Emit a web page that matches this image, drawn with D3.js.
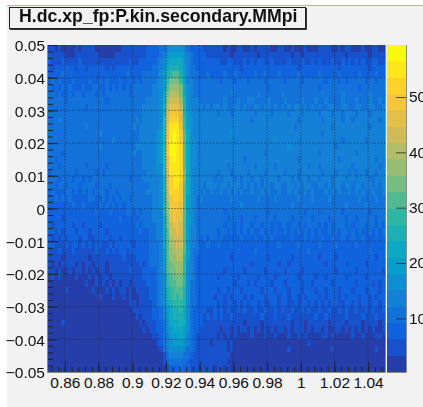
<!DOCTYPE html>
<html>
<head>
<meta charset="utf-8">
<script src="https://cdn.jsdelivr.net/npm/d3@7"></script>
<style>
    html, body { margin: 0; padding: 0; background: #fff; overflow: hidden; }
    svg { display: block; filter: blur(0.4px); }
    text { font-family: "Liberation Sans", Arial, sans-serif; fill: #111; }
</style>
</head>
<body>
<div id="chart"></div>
<script>
const titleText = "H.dc.xp_fp:P.kin.secondary.MMpi";

const xDomain = [0.85, 1.05];
const yDomain = [-0.05, 0.05];
const zDomain = [3, 594];

const xTicks = [0.86, 0.88, 0.9, 0.92, 0.94, 0.96, 0.98, 1, 1.02, 1.04];
const xTickLabels = ["0.86", "0.88", "0.9", "0.92", "0.94", "0.96", "0.98", "1", "1.02", "1.04"];
const yTicks = [-0.05, -0.04, -0.03, -0.02, -0.01, 0, 0.01, 0.02, 0.03, 0.04, 0.05];
const yTickLabels = ["\u22120.05", "\u22120.04", "\u22120.03", "\u22120.02", "\u22120.01", "0", "0.01", "0.02", "0.03", "0.04", "0.05"];
const zTicks = [100, 200, 300, 400, 500];

// ROOT kBird palette stops
const birdStops = ["#352a87", "#0f5cdd", "#1481d6", "#06a4ca", "#2eb7a4", "#87bf77", "#d1bb59", "#fec832", "#f9fb0e"];

const levelRows = [
    "1101000010 1111000000 0011111112 2223345555 4322221111 1101001100 1011110011 0010001000 1111001011 0001001100",
    "1111100011 1111100000 1111111112 2223456666 5432222111 1111011111 1101111111 1101101111 1111111101 1111101111",
    "2111211112 1111111111 1111211222 2234567777 5432222222 2112211121 2122112111 1211121121 2111211212 1212112211",
    "2122222212 2122222121 2222222222 2334578887 6433222222 2222222122 2222222222 2222122222 2222221222 2222212222",
    "2222322222 2222222222 2223222233 3335689aa8 6433322322 2232232222 2322322232 2222322222 3222223222 2232222322",
    "2323222322 2232232322 2322323233 334569bbb9 6443333333 3233323332 3333233333 2333323333 3323332323 3333233233",
    "3232323222 3223322323 2323233333 34456acccb 7543333333 3333333333 3333323333 3333333333 2333333333 3323333333",
    "3323223233 2333232333 3333233333 34457bdddb 7543333333 3333433333 3343333334 3333333333 3433333433 3333343333",
    "3333323333 3333333233 3333333334 44457ceeec 8544433333 3343334334 4333343333 4333343334 3343333433 3433343343",
    "3333333333 3233333333 3333333344 44458dfffd 8544443434 4343344343 3443443434 3434434343 4334433443 3443344334",
    "3333333333 3333333333 3333333344 44458eggge 8654444444 3444344444 4344443444 4344434444 3444344344 4344434444",
    "3334333333 3333333333 3333334344 44459ehhhe 9654444444 4444444444 3444444444 4444344444 4344444344 3444444434",
    "3333333333 3433333333 3333343444 44459fiiif 9654444444 4444444444 4444444444 4443444444 4444344444 4444434444",
    "3333333333 3333343333 3333333444 44569fijig a754444444 4444544444 4444444444 4444444444 4344444444 4444444444",
    "3333333333 3333333334 3333333444 44569gijig a755444444 4444444444 4444444544 4444444444 4444444344 4444344444",
    "3333333333 3333343333 3333334444 44569gjjih a755444444 4444444444 4444444444 4544444444 4444434444 4444444444",
    "3333233333 3333333333 3333343344 44569gjjih a755444444 4444444444 4444344444 4444444444 3444444444 4344444444",
    "3323333333 3333333333 3333333344 44569fijih a755444444 4444444434 4444444444 4444344444 4444443444 4444444344",
    "3332333333 3233333233 3333333344 44559fiiih a755444444 4443444444 4344444344 4444444344 3444444444 3444444434",
    "2333333323 3333232333 3333333334 44559eiiih b754444444 3444344443 4444344444 3444344444 4344434443 4344344344",
    "3332333233 2323333333 3333233344 44458ehiih b754444443 4344434344 3443444434 4434344344 3444344434 4344433444",
    "3323323332 3333233323 3333333333 44458ehiig a754443444 3443444343 4343443443 3443434433 4434344344 3443443434",
    "2322233232 3232333233 2333333334 44458dhhhg a754434343 3434343433 4334343343 3434334343 3343434334 3434334334",
    "2232323222 2233223232 3233233333 34458dghhg a654343333 3333433333 3343333433 3333433343 3334333333 3343333433",
    "2222222322 3222232323 2323333333 34458cgggf a654333333 3333333433 3333333333 3343333333 3333333343 3333433333",
    "2222222222 2222322232 2223323233 34448cfggf a654333333 3323333333 3333323333 3333332333 2333333233 3333323333",
    "2222122222 2222222222 2322222333 34447bfgff a654333333 3332333233 3233333233 3323333323 3332333323 3233333233",
    "2122222122 1222212222 2222223233 33447beffe a654333333 3323323233 2332332323 3233232333 2323233323 2333233232",
    "2212122212 2212222122 2222222322 33447aeefe a644333333 2332323232 3223232322 3232323232 3223232332 3232232323",
    "2121212221 2211222212 2122222222 33447adeee a644323233 2322222322 2322323222 2232223232 2322322322 3223222322",
    "2211121221 2121221121 2222212222 33347addee a644322322 3222322222 2222222232 2222322222 3222232222 2322222222",
    "1112111211 1111211212 1221222222 33346acddd a643322222 2222222222 2322222222 2222222322 2222222222 2222232222",
    "1111011111 1101111111 1121112222 33346accdd 9643222222 2222122222 2222212222 2212222222 1222212222 2222222122",
    "1010111101 0110111011 1111111212 33346abccc 9543222222 2222222222 1222222212 2122222222 2212222212 2222122222",
    "1101001011 0101011011 1111211122 22346abbcc 9543222222 2212222212 2222122222 1222212222 2222212222 2122222221",
    "0101000010 0010101101 1111111122 223459abbb 9543222222 1222221222 2212222122 2222122221 2212222212 2222122222",
    "0000000000 0100101010 1011011112 223459aabb 9533222222 2222212221 2122221222 1222212212 2222122222 2122221212",
    "0000010000 0001000101 0110101111 2234589aaa 8533222222 1221222122 2221222122 2122212221 2212221222 1222122212",
    "0000000000 0000010001 0010100111 2234589a9a 8533222221 2212122212 1222122212 2122121222 1212221212 2212212122",
    "0000000000 0000000000 0000110111 1234578999 8533222222 1212212121 2212112212 2112122121 2121221122 1212212212",
    "0000000000 0000000000 0000011111 1223467889 7532222112 1212112121 1211211212 1121121211 2112112121 1211212112",
    "0000000000 0000000000 0000001011 1223467888 7532221212 1211211111 1112111211 1211111112 1121111121 1112111211",
    "0000100000 0000000000 0000000101 1122357778 7532221111 1111111101 1110111111 1101110111 1110111101 1110111101",
    "0000000000 0000000000 0000000010 1122356777 6532211111 1011010110 1010101011 0101110101 1010011010 1010101001",
    "0000000000 0000000000 0000000000 0112346667 6432111111 0101010000 1000100100 0100101000 0110100000 1001000110",
    "0000000000 0000000000 0000000000 0012345666 5432111101 1110100000 0000000000 0000000100 0000000000 0000000000",
    "0000000000 0000000000 0000000000 0001345555 4332111111 1110100000 0000000000 0100000000 0000100000 0000000100",
    "0000000000 0000000000 0000000000 0000134444 3321111111 1111000000 0000000000 0000000000 0000000000 0000000000",
    "0000000000 0000000000 0000000000 0000123333 3211111111 1110000000 0000000000 0000000000 0000000000 0000000000",
    "0000000000 0000000000 0000000000 0000012223 2211111110 1101000000 0000000000 0000000000 0000000000 0000000000"
];

const size = { width: 423, height: 407 };
const plot = { left: 48, right: 385, top: 45, bottom: 372 };
const bar = { left: 387, right: 406 };
const levelCount = 20;

const svg = d3.select("#chart").append("svg")
    .attr("width", size.width)
    .attr("height", size.height);

// canvas background and the thin line along its top edge
svg.append("rect").attr("x", 7).attr("y", 5).attr("width", size.width - 7).attr("height", size.height - 5).attr("fill", "#f2f2f2");
svg.append("line").attr("x1", 7).attr("x2", size.width).attr("y1", 5.5).attr("y2", 5.5).attr("stroke", "#f09a9a");

const x = d3.scaleLinear().domain(xDomain).range([plot.left, plot.right]);
const y = d3.scaleLinear().domain(yDomain).range([plot.bottom, plot.top]);
const zY = d3.scaleLinear().domain(zDomain).range([plot.bottom, plot.top]);

const bird = d3.piecewise(d3.interpolateRgb, birdStops);
const bandColors = d3.range(levelCount).map(i => bird((i + 1) / levelCount));
const color = d3.scaleQuantize().domain(zDomain).range(bandColors);
const zStep = (zDomain[1] - zDomain[0]) / levelCount;

// turn the level strings into cells with counts
const rows = levelRows.map(r => r.replace(/ /g, ""));
const xStep = (xDomain[1] - xDomain[0]) / rows[0].length;
const yStep = (yDomain[1] - yDomain[0]) / rows.length;
const cells = [];
rows.forEach((row, r) => {
    row.split("").forEach((ch, c) => {
        cells.push({
            x0: xDomain[0] + c * xStep,
            y1: yDomain[1] - r * yStep,
            count: zDomain[0] + (parseInt(ch, 20) + 0.5) * zStep
        });
    });
});

svg.append("g").attr("shape-rendering", "crispEdges")
    .selectAll("rect")
    .data(cells)
    .enter().append("rect")
    .attr("x", d => x(d.x0))
    .attr("y", d => y(d.y1))
    .attr("width", d => x(d.x0 + xStep) - x(d.x0))
    .attr("height", d => y(d.y1 - yStep) - y(d.y1))
    .attr("fill", d => color(d.count));

// dotted grid
const grid = svg.append("g")
    .attr("stroke", "#1a2a4a")
    .attr("stroke-opacity", 0.6)
    .attr("stroke-dasharray", "1.5 1.5");
grid.selectAll("line.v").data(xTicks).enter().append("line")
    .attr("x1", d => x(d)).attr("x2", d => x(d))
    .attr("y1", plot.top).attr("y2", plot.bottom);
grid.selectAll("line.h").data(yTicks.slice(1, -1)).enter().append("line")
    .attr("x1", plot.left).attr("x2", plot.right)
    .attr("y1", d => y(d)).attr("y2", d => y(d));

// axes, minor ticks first
const xMinor = d3.range(0.852, 1.05, 0.004);
const yMinor = d3.range(-0.05, 0.05, 0.002);

function styleAxis(g) {
    g.select(".domain").remove();
    g.selectAll("line").attr("stroke", "#20242e");
    g.selectAll("text").attr("font-size", 15.5).attr("fill", "#111");
}

svg.append("g").attr("transform", `translate(0,${plot.bottom})`)
    .call(d3.axisBottom(x).tickValues(xMinor).tickSize(-5).tickFormat(""))
    .call(styleAxis);
svg.append("g").attr("transform", `translate(${plot.left},0)`)
    .call(d3.axisLeft(y).tickValues(yMinor).tickSize(-5).tickFormat(""))
    .call(styleAxis);
svg.append("g").attr("transform", `translate(0,${plot.bottom})`)
    .call(d3.axisBottom(x).tickValues(xTicks).tickSizeInner(-10).tickSizeOuter(0).tickFormat((d, i) => xTickLabels[i]))
    .call(styleAxis)
    .call(g => g.selectAll("text").attr("y", 5));
svg.append("g").attr("transform", `translate(${plot.left},0)`)
    .call(d3.axisLeft(y).tickValues(yTicks).tickSizeInner(-10).tickSizeOuter(0).tickFormat((d, i) => yTickLabels[i]))
    .call(styleAxis)
    .call(g => g.selectAll("text").attr("x", -3).attr("dy", "0.38em"));

// frame
svg.append("path")
    .attr("d", `M${plot.left - 0.5},${plot.top}V${plot.bottom + 0.5}H${plot.right + 0.5}V${plot.top}`)
    .attr("fill", "none").attr("stroke", "#8a8a8a").attr("stroke-width", 1);

// palette strip
svg.append("g").attr("shape-rendering", "crispEdges")
    .selectAll("rect")
    .data(bandColors)
    .enter().append("rect")
    .attr("x", bar.left)
    .attr("y", (d, i) => zY(zDomain[0] + (i + 1) * zStep))
    .attr("width", bar.right - bar.left)
    .attr("height", (d, i) => zY(zDomain[0] + i * zStep) - zY(zDomain[0] + (i + 1) * zStep))
    .attr("fill", d => d);

svg.append("g").attr("transform", `translate(${bar.right},0)`)
    .call(d3.axisRight(zY).tickValues(zTicks).tickSizeInner(-10).tickSizeOuter(0))
    .call(styleAxis)
    .call(g => g.selectAll("text").attr("x", 3))
    .call(g => g.selectAll("line").attr("stroke-opacity", 0.75));

svg.append("path")
    .attr("d", `M${bar.left},${plot.bottom + 0.5}H${bar.right + 0.5}V${plot.top}`)
    .attr("fill", "none").attr("stroke", "#8a8a8a");

// title box with its shadow on the right and bottom
svg.append("rect").attr("x", 9.5).attr("y", 7.5).attr("width", 296).attr("height", 21)
    .attr("fill", "#f2f2f2").attr("stroke", "#222");
svg.append("path").attr("d", "M10,29.5H306.5V8").attr("fill", "none").attr("stroke", "#333").attr("stroke-width", 1);
svg.append("text").attr("x", 19).attr("y", 22)
    .attr("font-size", 17.7).attr("font-weight", "bold")
    .text(titleText);
</script>
</body>
</html>
